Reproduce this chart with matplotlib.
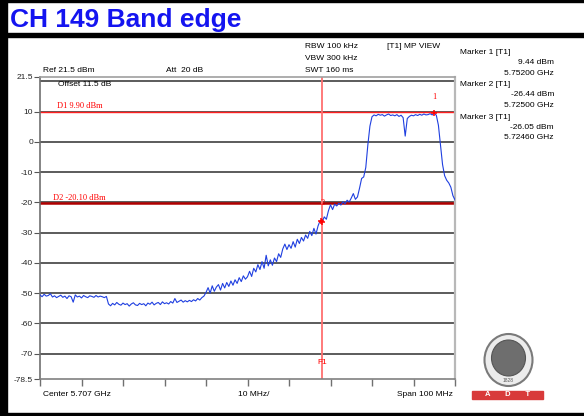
import numpy as np
import matplotlib.pyplot as plt
from matplotlib.patches import Rectangle, Ellipse

W, H = 584, 416

# trace data: one value every 0.5 MHz from 5.657 GHz to 5.757 GHz
freq_start_mhz = 5657.0
freq_step_mhz = 0.5
level_dbm = [
    # 5657 - 5666.5
    -50.6, -51.2, -50.4, -51.0, -50.8, -50.2, -51.3, -50.9, -51.5, -51.1,
    -50.7, -51.4, -51.0, -51.8, -50.9, -51.2, -53.0, -50.6, -51.3, -51.0,
    # 5667 - 5676.5
    -51.6, -50.8, -51.2, -51.5, -50.9, -51.1, -51.4, -50.8, -51.3, -51.0,
    -51.2, -51.5, -51.1, -53.6, -54.2, -53.4, -53.9, -53.1, -53.7, -54.0,
    # 5677 - 5686.5
    -53.3, -53.8, -53.5, -54.3, -53.6, -53.2, -53.9, -54.1, -53.4, -53.8,
    -53.5, -54.2, -53.3, -53.7, -53.0, -53.9, -53.4, -53.1, -53.8, -52.9,
    # 5687 - 5696.5
    -53.5, -53.2, -53.6, -52.8, -53.3, -51.8, -53.1, -52.7, -52.3, -53.0,
    -52.5, -52.9, -52.4, -52.8, -52.2, -52.6, -51.8, -52.3, -51.5, -51.0,
    # 5697 - 5706.5
    -49.8, -48.2, -50.0, -47.6, -49.4, -48.0, -47.2, -49.0, -46.8, -48.3,
    -46.5, -47.8, -46.0, -47.4, -45.6, -46.8, -44.9, -46.2, -44.3, -45.4,
    # 5707 - 5716.5
    -44.6, -42.8, -44.5, -41.8, -43.0, -40.6, -42.2, -39.6, -41.8, -37.5,
    -41.0, -39.0, -40.8, -38.4, -39.6, -37.0, -38.2, -35.4, -33.8, -35.6,
    # 5717 - 5726.5
    -34.0, -35.2, -33.0, -34.8, -32.2, -33.6, -31.6, -32.8, -30.8, -31.9,
    -29.6, -31.0, -28.6, -30.5, -27.8, -26.05, -26.44, -24.8, -25.6, -22.8,
    # 5727 - 5736.5
    -20.8, -22.4, -20.6, -21.2, -20.3, -20.9, -19.8, -20.5, -19.3, -19.9,
    -18.6, -17.1, -19.0, -18.2, -15.3, -12.1, -11.6, -8.5, -1.0, 5.2,
    # 5737 - 5746.5
    8.3, 8.9, 8.6, 9.1, 8.8, 9.0, 8.5, 8.9, 9.2, 8.7,
    8.9, 8.6, 9.0, 8.4, 8.8, 8.0, 1.9, 7.7, 8.4, 8.8,
    # 5747 - 5756.5
    8.6, 9.0, 8.7, 9.1, 8.8, 9.2, 8.9, 9.0, 9.3, 8.9,
    9.44, 8.8, 5.5, -1.0, -7.5, -11.2, -12.7, -13.6, -15.0, -17.8,
    # 5757
    -19.2,
]

marker_freq_ghz = [5.752, 5.725, 5.7246]
marker_level_dbm = [9.44, -26.44, -26.05]
d1_level = 9.90
d2_level = -20.10
ref_level = 21.5
bottom_level = -78.5
grid_levels = [20, 10, 0, -10, -20, -30, -40, -50, -60, -70]
ytick_values = [21.5, 10, 0, -10, -20, -30, -40, -50, -60, -70, -78.5]
ytick_labels = ['21.5', '10', '0', '-10', '-20', '-30', '-40', '-50', '-60', '-70', '-78.5']

freqs_ghz = (freq_start_mhz + freq_step_mhz * np.arange(len(level_dbm))) / 1000.0

plt.rcParams['font.family'] = ['Liberation Sans', 'DejaVu Sans']

fig = plt.figure(figsize=(W / 100, H / 100), dpi=100)
fig.patch.set_facecolor('white')


def px(x, y):
    # pixel position -> figure fraction
    return x / W, 1 - y / H


def ftext(x, y, s, **kw):
    kw.setdefault('fontsize', 6)
    kw.setdefault('va', 'center')
    fig.text(*px(x, y), s, **kw)


# black frame around the screenshot
for (x0, y0, w, h) in [(0, 0, 7.3, H), (0, 0, W, 2), (0, 33, W, 4), (0, 412.7, W, 3.3)]:
    fig.patches.append(Rectangle((x0 / W, 1 - (y0 + h) / H), w / W, h / H,
                                 transform=fig.transFigure, color='black', zorder=0))

ftext(10, 27, 'CH 149 Band edge', va='baseline', fontsize=19, fontweight='bold', color='#1414f0')

# main plot
ax = fig.add_axes([40 / W, 1 - 379.3 / H, 415 / W, 302.5 / H])
ax.set_xlim(freq_start_mhz / 1000, (freq_start_mhz + 100) / 1000)
ax.set_ylim(bottom_level, ref_level)

for v in grid_levels:
    ax.axhline(v, color='#404040', lw=1.2, zorder=1)
ax.axhline(d1_level, color='#ff2020', lw=1.0, zorder=2)
ax.axhline(d2_level, color='#b00000', lw=1.8, zorder=2)
ax.axvline(5.725, color='#ff7070', lw=1.3, zorder=2)

ax.plot(freqs_ghz, level_dbm, color='#1f3fe0', lw=0.8, zorder=3)
ax.plot(marker_freq_ghz, marker_level_dbm, '+', color='red', ms=5, mew=1.1, zorder=4)
ax.text(5.752, 14.9, '1', color='red', fontsize=6, family='Liberation Serif', ha='center', va='center')
ax.text(5.725, -20.3, '2', color='red', fontsize=6, family='Liberation Serif', ha='center', va='center', zorder=5)
ax.text(5.725, -73.0, 'F1', color='red', fontsize=6, ha='center', va='center')

ax.set_yticks(ytick_values)
ax.set_yticklabels(ytick_labels)
ax.set_xticks(np.linspace(5.657, 5.757, 11))
ax.set_xticklabels([])
ax.tick_params(axis='y', direction='out', length=4, width=0.8, colors='#555555',
               labelsize=6, labelcolor='#222222', pad=1)
ax.tick_params(axis='x', direction='out', length=5, width=1.0, colors='#707070')
for side, col, lw in [('left', '#707070', 1.2), ('bottom', '#808080', 1.2),
                      ('top', '#a0a0a0', 1.2), ('right', '#b8b8b8', 1.6)]:
    ax.spines[side].set_color(col)
    ax.spines[side].set_linewidth(lw)

# settings text
ftext(42.7, 70, 'Ref 21.5 dBm')
ftext(166, 70, 'Att  20 dB')
ftext(58.3, 85, 'Offset 11.5 dB')
ftext(56.7, 106, 'D1 9.90 dBm', color='red', family='Liberation Serif')
ftext(52.7, 198.3, 'D2 -20.10 dBm', color='red', family='Liberation Serif')
ftext(305, 46.7, 'RBW 100 kHz')
ftext(305, 59, 'VBW 300 kHz')
ftext(305, 70, 'SWT 160 ms')
ftext(386.7, 46.7, '[T1] MP VIEW')

# marker table
ftext(460, 52.7, 'Marker 1 [T1]')
ftext(554, 62.3, '9.44 dBm', ha='right')
ftext(554, 73.3, '5.75200 GHz', ha='right')
ftext(460, 84.3, 'Marker 2 [T1]')
ftext(554, 95, '-26.44 dBm', ha='right')
ftext(554, 105.5, '5.72500 GHz', ha='right')
ftext(460, 117.3, 'Marker 3 [T1]')
ftext(554, 127.3, '-26.05 dBm', ha='right')
ftext(554, 137.7, '5.72460 GHz', ha='right')

ftext(42.7, 395, 'Center 5.707 GHz')
ftext(238.3, 395, '10 MHz/')
ftext(452.7, 395, 'Span 100 MHz', ha='right')

# logo
fig.patches.append(Ellipse(px(508.5, 360), 48 / W, 52 / H, transform=fig.transFigure,
                           facecolor='#ececec', edgecolor='#7a7a7a', lw=1.5))
fig.patches.append(Ellipse(px(508.5, 358), 34 / W, 36 / H, transform=fig.transFigure,
                           facecolor='#6e6e6e', edgecolor='#555555', lw=0.8))
ftext(508.5, 380, '1828', ha='center', fontsize=3.5, color='#555555')
fig.patches.append(Rectangle(px(472, 399), 71 / W, 8 / H, transform=fig.transFigure,
                             color='#d83a3a'))
ftext(508, 395, 'A       D       T', ha='center', fontsize=5.5, fontweight='bold', color='white')

fig.savefig('out.png', dpi=100)
